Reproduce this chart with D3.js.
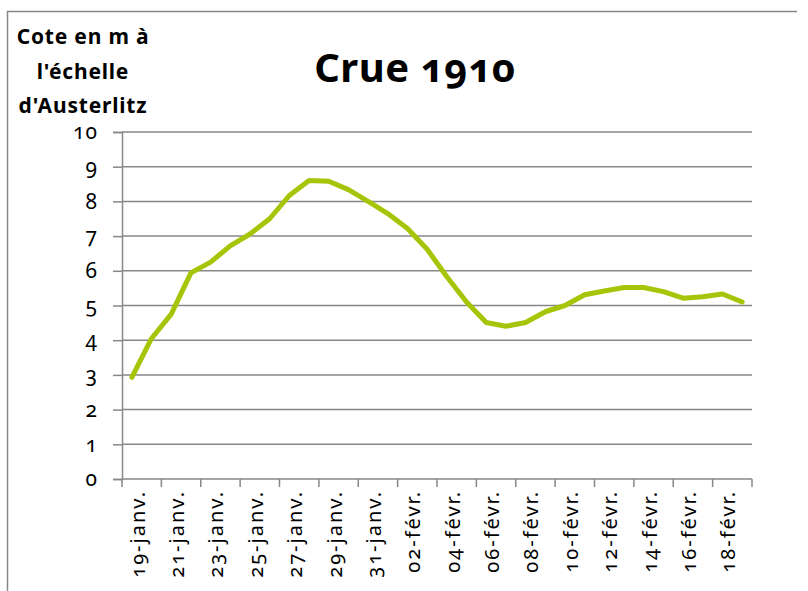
<!DOCTYPE html>
<html>
<head>
<meta charset="utf-8">
<script src="https://cdn.jsdelivr.net/npm/d3@7"></script>
<style>
  body { margin: 0; background: #fff; }
  svg { display: block; }
  text { font-family: "Noto Sans", sans-serif; font-variant-numeric: oldstyle-nums; font-feature-settings: "onum" 1; fill: #000; }
</style>
</head>
<body>
<svg width="808" height="591"></svg>
<script>
// daily readings, 19 janv. -> 19 févr. 1910
var days = ['19-janv.','20-janv.','21-janv.','22-janv.','23-janv.','24-janv.','25-janv.','26-janv.',
            '27-janv.','28-janv.','29-janv.','30-janv.','31-janv.','01-févr.','02-févr.','03-févr.',
            '04-févr.','05-févr.','06-févr.','07-févr.','08-févr.','09-févr.','10-févr.','11-févr.',
            '12-févr.','13-févr.','14-févr.','15-févr.','16-févr.','17-févr.','18-févr.','19-févr.'];
var cote = [2.93, 4.05, 4.75, 5.94, 6.25, 6.72, 7.06, 7.5, 8.17, 8.6, 8.58, 8.34, 8.0, 7.65, 7.22, 6.62,
            5.83, 5.1, 4.51, 4.4, 4.51, 4.82, 5.0, 5.31, 5.42, 5.52, 5.52, 5.4, 5.21, 5.25, 5.33, 5.1];
var tickLabels = ['19-janv.','21-janv.','23-janv.','25-janv.','27-janv.','29-janv.','31-janv.','02-févr.',
                  '04-févr.','06-févr.','08-févr.','10-févr.','12-févr.','14-févr.','16-févr.','18-févr.'];
var yTicks = [0, 1, 2, 3, 4, 5, 6, 7, 8, 9, 10];

var svg = d3.select('svg');
var grey = '#878787';

// chart frame (left + top edges only visible)
svg.append('path')
   .attr('d', 'M7.5,591 L7.5,11.5 L797,11.5')
   .attr('fill', 'none')
   .attr('stroke', grey)
   .attr('stroke-width', 1.5);

var x = d3.scaleBand().domain(days).range([122, 752]);
var y = d3.scaleLinear().domain([0, 10]).range([479, 132]);

// gridlines
svg.append('g').selectAll('line')
   .data(yTicks.filter(function(d){ return d > 0; }))
   .enter().append('line')
     .attr('x1', 122).attr('x2', 752)
     .attr('y1', function(d){ return y(d); })
     .attr('y2', function(d){ return y(d); })
     .attr('stroke', grey)
     .attr('stroke-width', 1.5);

// y axis
var yAxis = svg.append('g')
   .attr('transform', 'translate(122,0)')
   .call(d3.axisLeft(y).tickValues(yTicks).tickSize(9).tickPadding(15).tickFormat(d3.format('d')));
yAxis.select('.domain').attr('stroke', grey).attr('stroke-width', 1.5);
yAxis.selectAll('.tick line').attr('stroke', grey).attr('stroke-width', 1.5);
yAxis.selectAll('.tick text').style('font-size', '21px').style('letter-spacing', '1px');

// x axis: ticks every two days on the band boundaries
var tickPos = tickLabels.map(function(d){ return x(d); }).concat([752]);
svg.append('line')
   .attr('x1', 122).attr('x2', 752).attr('y1', 479).attr('y2', 479)
   .attr('stroke', grey).attr('stroke-width', 1.5);
svg.append('g').selectAll('line')
   .data(tickPos)
   .enter().append('line')
     .attr('x1', function(d){ return d; }).attr('x2', function(d){ return d; })
     .attr('y1', 479).attr('y2', 487)
     .attr('stroke', grey).attr('stroke-width', 1.5);

svg.append('g').selectAll('text')
   .data(tickLabels)
   .enter().append('text')
     .attr('transform', function(d){
        return 'translate(' + (x(d) + x.bandwidth() - 4) + ',490) rotate(-90)';
     })
     .attr('text-anchor', 'end')
     .attr('dy', '0.35em')
     .style('font-size', '20px')
     .style('letter-spacing', '2px')
     .text(function(d){ return d; });

// the flood curve
var line = d3.line()
   .x(function(d, i){ return x(days[i]) + x.bandwidth() / 2; })
   .y(function(d){ return y(d); });

svg.append('path')
   .datum(cote)
   .attr('d', line)
   .attr('fill', 'none')
   .attr('stroke', '#a8c408')
   .attr('stroke-width', 5)
   .attr('stroke-linejoin', 'round')
   .attr('stroke-linecap', 'round');

// titles
svg.append('text')
   .attr('x', 415).attr('y', 82)
   .attr('text-anchor', 'middle')
   .style('font-size', '40px')
   .style('font-weight', 'bold')
   .style('letter-spacing', '0.5px')
   .text('Crue 1910');

var yTitle = ['Cote en m à', "l'échelle", "d'Austerlitz"];
svg.append('g').selectAll('text')
   .data(yTitle)
   .enter().append('text')
     .attr('x', 83)
     .attr('y', function(d, i){ return 44 + i * 34.5; })
     .attr('text-anchor', 'middle')
     .style('font-size', '21px')
     .style('font-weight', 'bold')
     .style('letter-spacing', '0.8px')
     .text(function(d){ return d; });
</script>
</body>
</html>
